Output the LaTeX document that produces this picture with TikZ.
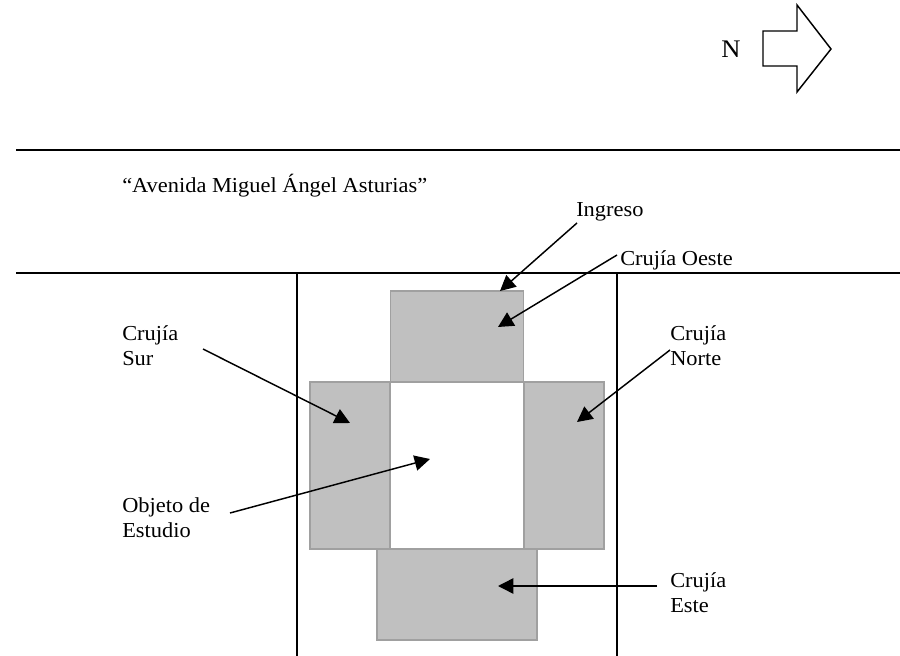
\documentclass[tikz,border=0pt]{standalone}
\usepackage{fontspec}
\setmainfont[FakeStretch=1.05]{Liberation Serif}
\usetikzlibrary{arrows.meta}
\tikzset{
	crujia/.style={draw={rgb,255:red,160;green,160;blue,160},line width=1.1pt,fill={rgb,255:red,192;green,192;blue,192},inner sep=0pt,outer sep=0pt},
	lote/.style={line width=1.1pt},
	flecha/.style={line width=1.1pt,-{Triangle[length=11.5pt,width=11.5pt]}},
	rotulo/.style={align=left,anchor=base west,inner sep=0pt,font=\fontsize{16pt}{18.5pt}\selectfont}
}
\begin{document}
\begin{tikzpicture}[x=0.75pt,y=-0.75pt]
\useasboundingbox (0,0) rectangle (900,656);

\node (crujia_oeste)	at (457,336.5)	[crujia,minimum width=100pt,minimum height=68pt] {};
\node (crujia_sur)	at (350,465.5)	[crujia,minimum width=60pt,minimum height=125pt] {};
\node (crujia_norte)	at (564,465.5)	[crujia,minimum width=60pt,minimum height=125pt] {};
\node (crujia_este)	at (457,594.5)	[crujia,minimum width=120pt,minimum height=68pt] {};

\coordinate (calle_a1)	at (16,150);
\coordinate (calle_a2)	at (900,150);
\coordinate (calle_b1)	at (16,273);
\coordinate (calle_b2)	at (900,273);
\coordinate (lote_a1)	at (297,273);
\coordinate (lote_a2)	at (297,656);
\coordinate (lote_b1)	at (617,273);
\coordinate (lote_b2)	at (617,656);
\draw [lote] (calle_a1) -- (calle_a2);
\draw [lote] (calle_b1) -- (calle_b2);
\draw [lote] (lote_a1) -- (lote_a2);
\draw [lote] (lote_b1) -- (lote_b2);

\node (norte)		at (721,57.5)	[rotulo,font=\fontsize{19pt}{20pt}\selectfont] {N};
\draw [lote] (763,31) -- (797,31) -- (797,5) -- (831,49) -- (797,92) -- (797,66) -- (763,66) -- cycle ;

\node (avenida)		at (122,193)	[rotulo] {``Avenida Miguel Ángel Asturias''};
\node (ingreso)		at (576,216.5)	[rotulo] {Ingreso};
\node (oeste_label)	at (620,266)	[rotulo] {Crujía Oeste};
\node (norte_label)	at (670,365)	[rotulo] {Crujía\\Norte};
\node (sur_label)	at (122,365)	[rotulo] {Crujía\\Sur};
\node (objeto_label)	at (122,537)	[rotulo] {Objeto de\\Estudio};
\node (este_label)	at (670,612)	[rotulo] {Crujía\\Este};

\coordinate (ingreso_ini)	at (577,223);
\coordinate (ingreso_fin)	at (500,291);
\coordinate (oeste_ini)	at (617,255);
\coordinate (oeste_fin)	at (498,327);
\coordinate (norte_ini)	at (670,350);
\coordinate (norte_fin)	at (577,422);
\coordinate (sur_ini)		at (203,349);
\coordinate (sur_fin)		at (350,423);
\coordinate (objeto_ini)	at (230,513);
\coordinate (objeto_fin)	at (430,459);
\coordinate (este_ini)	at (657,586);
\coordinate (este_fin)	at (498,586);
\draw [flecha] (ingreso_ini) -- (ingreso_fin);
\draw [flecha] (oeste_ini) -- (oeste_fin);
\draw [flecha] (norte_ini) -- (norte_fin);
\draw [flecha] (sur_ini) -- (sur_fin);
\draw [flecha] (objeto_ini) -- (objeto_fin);
\draw [flecha] (este_ini) -- (este_fin);

\end{tikzpicture}
\end{document}
